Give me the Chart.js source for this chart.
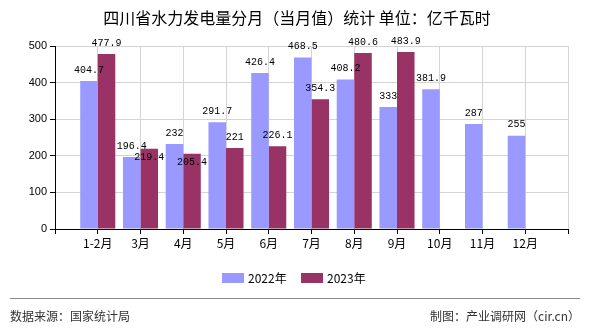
<!DOCTYPE html>
<html>
<head>
<meta charset="utf-8">
<script src="https://cdn.jsdelivr.net/npm/chart.js@4"></script>
<style>
  body { margin: 0; background: #fff; }
  canvas { display: block; }
</style>
</head>
<body>
<canvas id="c" width="590" height="330"></canvas>
<script>
// data
const months = ['1-2月', '3月', '4月', '5月', '6月', '7月', '8月', '9月', '10月', '11月', '12月'];
const v2022 = [404.7, 196.4, 232, 291.7, 426.4, 468.5, 408.2, 333, 381.9, 287, 255];
const v2023 = [477.9, 219.4, 205.4, 221, 226.1, 354.3, 480.6, 483.9, null, null, null];
const seriesNames = ['2022年', '2023年'];
const colors = ['#9999FF', '#993366'];

const cjk = '"Noto Sans CJK SC", sans-serif';

// empty slot at each end, like the original axis
const labels = [''].concat(months, ['']);
const pad = arr => [null].concat(arr, [null]);

// value labels above bars, 2023 label drops inside the bar if it hits the 2022 one
const valueLabels = {
  id: 'valueLabels',
  afterDatasetsDraw(chart) {
    const ctx = chart.ctx;
    ctx.save();
    ctx.font = '10px "Liberation Mono", monospace';
    ctx.fillStyle = '#000';
    ctx.textAlign = 'center';
    ctx.textBaseline = 'bottom';
    const placed = [];
    chart.data.datasets.forEach((ds, i) => {
      chart.getDatasetMeta(i).data.forEach((bar, j) => {
        const v = ds.data[j];
        if (v == null) return;
        const txt = String(v);
        const w = ctx.measureText(txt).width;
        let y = bar.y - 6;
        let box = { x1: bar.x - w / 2, x2: bar.x + w / 2, y1: y - 10, y2: y };
        const hit = placed.some(b => b.x1 < box.x2 && box.x1 < b.x2 && b.y1 < box.y2 && box.y1 < b.y2);
        if (hit) {
          y = bar.y + 14;
          box = { x1: box.x1, x2: box.x2, y1: y - 10, y2: y };
        }
        placed.push(box);
        ctx.fillText(txt, bar.x, y);
      });
    });
    ctx.restore();
  }
};

// title, legend and footer
const decor = {
  id: 'decor',
  afterDraw(chart) {
    const ctx = chart.ctx;
    ctx.save();
    ctx.fillStyle = '#000';
    ctx.textBaseline = 'middle';
    ctx.textAlign = 'center';
    ctx.font = '16px ' + cjk;
    ctx.fillText('四川省水力发电量分月（当月值）统计 单位：亿千瓦时', 297, 18);

    // legend
    ctx.textAlign = 'left';
    ctx.font = '12px ' + cjk;
    const lx = [222, 301];
    seriesNames.forEach((name, i) => {
      ctx.fillStyle = colors[i];
      ctx.fillRect(lx[i], 273, 22, 10);
      ctx.fillStyle = '#000';
      ctx.fillText(name, lx[i] + 26, 278);
    });

    // footer
    ctx.strokeStyle = '#888';
    ctx.lineWidth = 1;
    ctx.beginPath();
    ctx.moveTo(10, 298.5);
    ctx.lineTo(580, 298.5);
    ctx.stroke();
    ctx.fillStyle = '#333';
    ctx.font = '12px ' + cjk;
    ctx.fillText('数据来源：国家统计局', 10, 316);
    ctx.textAlign = 'right';
    ctx.fillText('制图：产业调研网（cir.cn）', 580, 316);
    ctx.restore();
  }
};

new Chart(document.getElementById('c'), {
  type: 'bar',
  data: {
    labels: labels,
    datasets: [
      { label: seriesNames[0], data: pad(v2022), backgroundColor: colors[0] },
      { label: seriesNames[1], data: pad(v2023), backgroundColor: colors[1] }
    ]
  },
  options: {
    responsive: false,
    animation: false,
    devicePixelRatio: 1,
    layout: { padding: { left: 10, right: 22, top: 46, bottom: 71 } },
    datasets: { bar: { categoryPercentage: 0.82, barPercentage: 1 } },
    plugins: {
      legend: { display: false },
      title: { display: false },
      tooltip: { enabled: false }
    },
    scales: {
      x: {
        offset: false,
        grid: { offset: false, color: '#d4d4d4', tickColor: '#000', tickLength: 5 },
        border: { color: '#000' },
        ticks: { color: '#000', font: { size: 12, family: cjk }, padding: 2, autoSkip: false, maxRotation: 0 },
        afterFit(s) { s.height = 30; }
      },
      y: {
        min: 0,
        max: 500,
        grid: { color: '#d4d4d4', tickColor: '#000', tickLength: 5 },
        border: { color: '#000' },
        ticks: { stepSize: 100, color: '#000', font: { size: 11, family: '"Liberation Sans", sans-serif' }, padding: 3 },
        afterFit(s) { s.width = 45; }
      }
    }
  },
  plugins: [valueLabels, decor]
});
</script>
</body>
</html>
